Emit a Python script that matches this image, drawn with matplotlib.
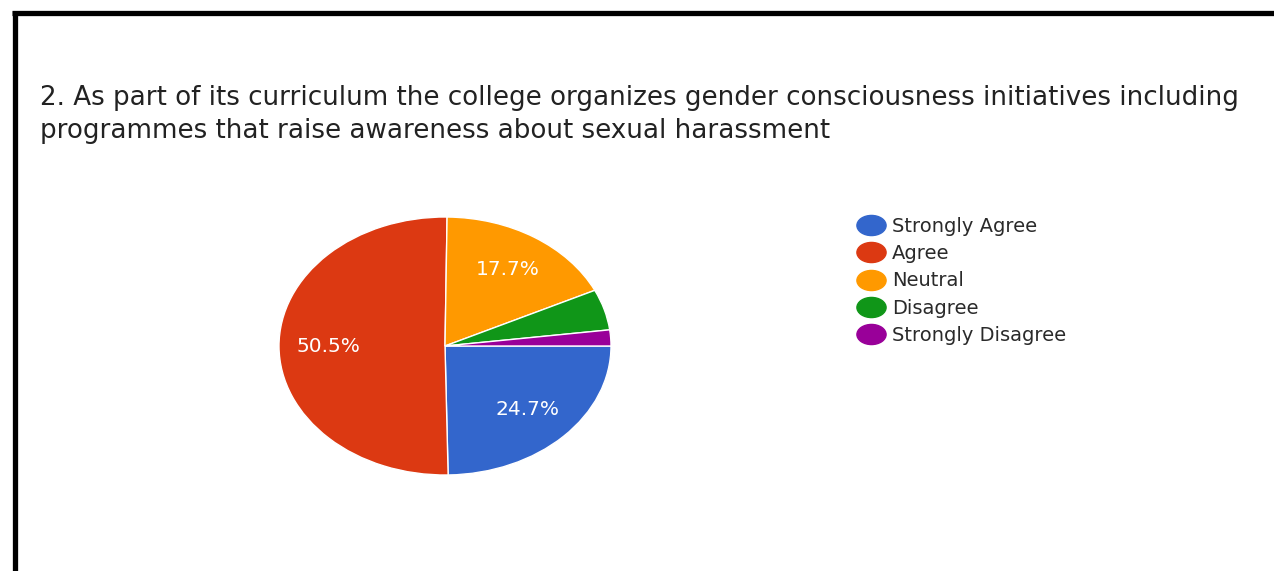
import matplotlib.pyplot as plt
import numpy as np
from matplotlib.lines import Line2D
from matplotlib.path import Path
from matplotlib.transforms import Affine2D

question = [
    "2. As part of its curriculum the college organizes gender consciousness initiatives including",
    "programmes that raise awareness about sexual harassment",
]
responses = ["Strongly Agree", "Agree", "Neutral", "Disagree", "Strongly Disagree"]
shares = [24.7, 50.5, 17.7, 5.1, 2.0]
colors = ["#3366cc", "#dc3912", "#ff9900", "#109618", "#990099"]

W, H = 1274, 571
fig = plt.figure(figsize=(W / 100, H / 100), dpi=100)
fig.patch.set_facecolor("white")


def px(x, y):
    # pixel position (from top-left) -> figure fraction
    return x / W, 1 - y / H


# frame lines along the top and the left side
fig.add_artist(Line2D([12 / W, 1], [1 - 12.5 / H] * 2, color="black", lw=3.8, solid_capstyle="butt"))
fig.add_artist(Line2D([14.5 / W] * 2, [0, 1 - 10.5 / H], color="black", lw=3.8, solid_capstyle="butt"))

# question text
for i, line in enumerate(question):
    x, y = px(40, 105 + 33 * i)
    fig.text(x, y, line, fontsize=18.8, color="#222222", va="baseline", ha="left")

# pie, squashed vertically (axes box is wider than tall)
cx, cy, rx, ry = 445, 346, 166, 129
pad = 1.05
ax = fig.add_axes([(cx - rx * pad) / W, 1 - (cy + ry * pad) / H, 2 * rx * pad / W, 2 * ry * pad / H])
wedges, texts, autotexts = ax.pie(
    shares,
    colors=colors,
    startangle=0,
    counterclock=False,
    autopct=lambda p: f"{p:.1f}%" if p > 10 else "",
    pctdistance=0.7,
    wedgeprops=dict(edgecolor="white", linewidth=1.0),
    textprops=dict(color="white", fontsize=14.5),
)
ax.set_aspect("auto")
ax.set_xlim(-pad, pad)
ax.set_ylim(-pad, pad)

# legend with wide oval markers
oval = Path.unit_circle().transformed(Affine2D().scale(1.45, 1.0))
handles = [
    Line2D([], [], ls="none", marker=oval, markersize=21, markerfacecolor=c, markeredgecolor=c)
    for c in colors
]
lx, ly = px(859, 217)
fig.legend(
    handles,
    responses,
    loc="upper left",
    bbox_to_anchor=(lx, ly),
    frameon=False,
    fontsize=14,
    labelcolor="#2a2a2a",
    handlelength=1.2,
    handletextpad=0.5,
    labelspacing=0.42,
    borderpad=0,
    borderaxespad=0,
)

fig.savefig("out.png", dpi=100, facecolor="white")
